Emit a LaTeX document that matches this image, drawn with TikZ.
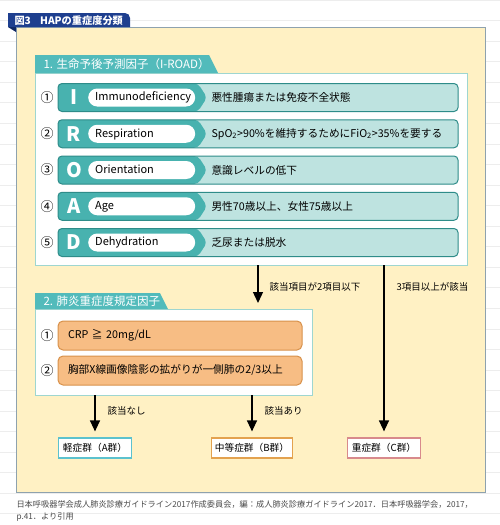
\documentclass[tikz,border=0pt]{standalone}
\usepackage{fontspec}
\usepackage{xcolor}
\usepackage{tikz}
\usetikzlibrary{arrows.meta}
\setmainfont{Noto Sans CJK JP}
\definecolor{HAPNavy}{HTML}{1E3F8F}
\definecolor{HAPNavyDark}{HTML}{0F2763}
\definecolor{HAPCream}{HTML}{FFF1C4}
\definecolor{HAPFrame}{HTML}{8EA2AE}
\definecolor{HAPTeal}{HTML}{52BBBB}
\definecolor{HAPTealLine}{HTML}{9ED6D0}
\definecolor{HAPRowDark}{HTML}{48B2AF}
\definecolor{HAPRowEdge}{HTML}{2E8C89}
\definecolor{HAPRowLight}{HTML}{BEE3E0}
\definecolor{HAPOrange}{HTML}{F7BD84}
\definecolor{HAPOrangeLine}{HTML}{D8914B}
\definecolor{HAPGroupA}{HTML}{5CC2CE}
\definecolor{HAPGroupB}{HTML}{E3A24F}
\definecolor{HAPGroupC}{HTML}{D88A8C}
\definecolor{HAPRule}{HTML}{EDEDED}
\definecolor{HAPNote}{HTML}{4A4A4A}
\tikzset{
  num/.style={font=\fontsize{13}{13}\selectfont},
  ltr/.style={text=white,font=\fontsize{20}{20}\selectfont\bfseries},
  pill/.style={fill=white,rounded corners=9pt,minimum height=18pt,text width=93pt,
    text height=8pt,text depth=1.2pt,inner xsep=7pt,inner ysep=0pt,align=left,anchor=west,
    font=\fontsize{11}{11}\selectfont},
  rowtxt/.style={anchor=west,font=\fontsize{10.7}{10.7}\selectfont},
  rowlt/.style={fill=HAPRowLight,rounded corners=4pt},
  rowdk/.style={fill=HAPRowDark,rounded corners=4pt},
  rowedge/.style={draw=HAPRowEdge,line width=1pt,rounded corners=4pt},
  secbox/.style={draw=HAPTealLine,fill=white,line width=0.8pt},
  sectitle/.style={anchor=west,text=white,font=\fontsize{11.5}{11.5}\selectfont},
  crit/.style={draw=HAPOrangeLine,fill=HAPOrange,line width=1pt,rounded corners=5pt,
    minimum height=29pt,text width=224pt,text height=8pt,text depth=1.2pt,inner xsep=10pt,
    align=left,font=\fontsize{10.7}{10.7}\selectfont},
  grp/.style={fill=white,line width=1.2pt,minimum width=73pt,minimum height=20pt,
    font=\fontsize{9.7}{9.7}\selectfont},
  lbl/.style={anchor=west,font=\fontsize{9.5}{9.5}\selectfont},
  arr/.style={line width=1.3pt,-{Triangle[width=10pt,length=11pt]}},
  note/.style={anchor=west,text=HAPNote,font=\fontsize{8.2}{8.2}\selectfont}
}
\begin{document}
\begin{tikzpicture}[x=1pt,y=-1pt]
\path[use as bounding box] (0,0) rectangle (500,525);
\foreach \k in {0,...,25} \draw[HAPRule,line width=0.6pt] (0,20.55*\k) -- (500,20.55*\k);
\draw[HAPFrame,fill=HAPCream,line width=1pt] (16,27) rectangle (485,492);
\fill[HAPNavyDark] (8,27) -- (16,27) -- (16,32) -- cycle;
\fill[HAPNavy] (8,27) -- (8,13) -- (125,13) arc[start angle=-90,end angle=0,radius=5] -- (130,27) -- cycle;
\node[anchor=west,text=white,font=\fontsize{10.2}{10.2}\selectfont\bfseries] (title) at (11,20.5) {図3\hspace{0.9em}HAPの重症度分類};
\node[secbox,minimum width=432pt,minimum height=192pt] (sec1) at (251,169) {};
\fill[HAPTeal] (35,73) -- (35,55) -- (209,55) -- (218,73) -- cycle;
\node[sectitle] (sec1title) at (40,64.5) {1. 生命予後予測因子（I-ROAD）};
\fill[rowlt] (58,83.5) rectangle (458,111.5);
\fill[rowdk] (58,83.5) -- (198,83.5) -- (207,97.5) -- (198,111.5) -- (58,111.5) -- cycle;
\draw[rowedge] (58,83.5) rectangle (458,111.5);
\node[num] (n1) at (47,97.5) {①};
\node[ltr] (l1) at (74,97.5) {I};
\node[pill] (p1) at (88,97.5) {Immunodeficiency};
\node[rowtxt] (t1) at (208,97.5) {悪性腫瘍または免疫不全状態};
\fill[rowlt] (58,119.75) rectangle (458,147.75);
\fill[rowdk] (58,119.75) -- (198,119.75) -- (207,133.75) -- (198,147.75) -- (58,147.75) -- cycle;
\draw[rowedge] (58,119.75) rectangle (458,147.75);
\node[num] (n2) at (47,133.75) {②};
\node[ltr] (l2) at (74,133.75) {R};
\node[pill] (p2) at (88,133.75) {Respiration};
\node[rowtxt] (t2) at (208,133.75) {SpO\textsubscript{2}>90\%を維持するためにFiO\textsubscript{2}>35\%を要する};
\fill[rowlt] (58,156) rectangle (458,184);
\fill[rowdk] (58,156) -- (198,156) -- (207,170) -- (198,184) -- (58,184) -- cycle;
\draw[rowedge] (58,156) rectangle (458,184);
\node[num] (n3) at (47,170) {③};
\node[ltr] (l3) at (74,170) {O};
\node[pill] (p3) at (88,170) {Orientation};
\node[rowtxt] (t3) at (208,170) {意識レベルの低下};
\fill[rowlt] (58,192.25) rectangle (458,220.25);
\fill[rowdk] (58,192.25) -- (198,192.25) -- (207,206.25) -- (198,220.25) -- (58,220.25) -- cycle;
\draw[rowedge] (58,192.25) rectangle (458,220.25);
\node[num] (n4) at (47,206.25) {④};
\node[ltr] (l4) at (74,206.25) {A};
\node[pill] (p4) at (88,206.25) {Age};
\node[rowtxt] (t4) at (208,206.25) {男性70歳以上、女性75歳以上};
\fill[rowlt] (58,228.5) rectangle (458,256.5);
\fill[rowdk] (58,228.5) -- (198,228.5) -- (207,242.5) -- (198,256.5) -- (58,256.5) -- cycle;
\draw[rowedge] (58,228.5) rectangle (458,256.5);
\node[num] (n5) at (47,242.5) {⑤};
\node[ltr] (l5) at (74,242.5) {D};
\node[pill] (p5) at (88,242.5) {Dehydration};
\node[rowtxt] (t5) at (208,242.5) {乏尿または脱水};
\node[secbox,minimum width=277pt,minimum height=86pt] (sec2) at (173.5,352) {};
\fill[HAPTeal] (35,309) -- (35,293) -- (160,293) -- (168,309) -- cycle;
\node[sectitle] (sec2title) at (40,301) {2. 肺炎重症度規定因子};
\node[num] (m1) at (47,335.5) {①};
\node[crit] (c1) at (180,335.5) {CRP ≧ 20mg/dL};
\node[num] (m2) at (47,370.5) {②};
\node[crit] (c2) at (180,370.5) {胸部X線画像陰影の拡がりが一側肺の2/3以上};
\node[grp,draw=HAPGroupA] (grpA) at (95,448) {軽症群（A群）};
\node[grp,draw=HAPGroupB] (grpB) at (252,448) {中等症群（B群）};
\node[grp,draw=HAPGroupC] (grpC) at (384,448) {重症群（C群）};
\coordinate (mid) at (258,303);
\draw[arr] (sec1.south -| mid) -- (mid);
\draw[arr,shorten >=6pt] (sec1.south -| grpC.north) -- (grpC.north);
\draw[arr,shorten >=6pt] (sec2.south -| grpA.north) -- (grpA.north);
\draw[arr,shorten >=6pt] (sec2.south -| grpB.north) -- (grpB.north);
\node[lbl] (few) at (266,287) {該当項目が2項目以下};
\node[lbl] (many) at (393,287) {3項目以上が該当};
\node[lbl] (none) at (104,411) {該当なし};
\node[lbl] (some) at (261,411) {該当あり};
\node[note] (src1) at (13,504) {日本呼吸器学会成人肺炎診療ガイドライン2017作成委員会，編：成人肺炎診療ガイドライン2017．日本呼吸器学会，2017，};
\node[note] (src2) at (13,517) {p.41．より引用};
\end{tikzpicture}
\end{document}
